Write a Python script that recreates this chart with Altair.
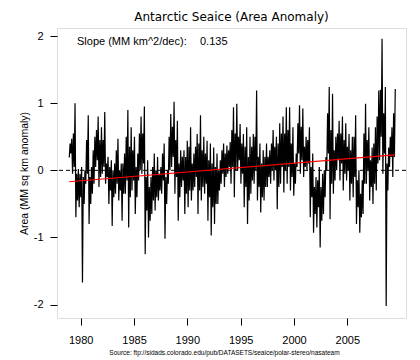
import altair as alt
import pandas as pd

# ---- data (dense daily series, per ~0.31-year bin) ----
# lo/hi: extremes reached in each bin; core_lo/core_hi: the dense band in each bin
start_year = 1978.93
step = 0.3095
lo = [
    0.19, -0.05, -0.70, -0.55, -1.67, -0.20, -0.80, -0.35, 0.05, -0.25, -0.05, -0.20, -0.50, -0.83, -0.35,
    -0.45, -0.75, -0.35, -0.85, -0.30, -0.65, -0.15, -0.05, -1.25, -1.00, -0.65, -0.60, -0.45, -0.35, -1.02, -0.20, 0.05,
    -0.35, -0.75, -0.25, -0.65, -0.55, -0.45, -0.25, -0.65, -0.45, -0.35, -0.75, -0.97, -0.80, -0.50, -0.20, -0.25, -0.05,
    -0.20, -0.40, 0.00, -0.20, -0.55, -0.80, -0.35, -0.20, -0.45, -0.63, -0.45, -0.25, -0.20, -0.15, -0.58, -0.20, -0.33,
    -0.20, -0.30, -0.38, 0.05, -0.05, -0.10, 0.00, -0.70, -0.93, -0.85, -1.15, -0.65, 0.00, -0.73, -0.35, 0.00, -0.15,
    -0.30, -0.15, -0.45, -0.40, -0.80, -0.93, -0.65, -0.20, -0.45, -0.50, -0.30, 0.15, -0.05, -2.02, 0.05, -0.10,
]
hi = [
    0.47, 1.00, 0.02, 0.05, 0.00, 0.82, 0.05, 0.50, 0.80, 0.64, 0.87, 0.20, 0.15, 0.10, 0.47,
    0.10, 0.25, 0.90, 0.64, 0.50, 0.25, 0.80, 0.95, 0.15, -0.10, 0.25, 0.20, 0.05, 0.40, 0.00, 0.84, 1.02,
    0.74, 0.30, 0.30, 0.44, 0.64, 0.25, 0.54, 0.82, 0.50, 0.44, 0.40, 0.34, 0.25, 0.15, 0.40, 0.37, 0.42,
    0.94, 0.99, 0.69, 0.54, 0.64, 0.50, 0.54, 1.19, 0.40, 0.30, 0.40, 0.30, 0.60, 0.50, 0.70, 0.80, 0.94,
    0.94, 0.64, 0.25, 0.97, 0.92, 0.50, 0.64, 0.25, -0.10, 0.05, -0.05, 0.20, 1.24, 1.14, 0.50, 0.74, 0.80,
    0.70, 0.54, 0.50, 0.82, 0.00, -0.15, 0.99, 0.64, 0.34, 0.64, 1.19, 1.96, 1.24, 0.34, 0.64, 1.21,
]
core_lo = [
    0.25, 0.05, -0.45, -0.40, -0.50, -0.05, -0.50, -0.20, 0.15, -0.10, 0.05, -0.10, -0.30, -0.40, -0.20,
    -0.30, -0.35, -0.15, -0.40, -0.15, -0.40, 0.00, 0.10, -0.60, -0.75, -0.45, -0.40, -0.30, -0.15, -0.50, 0.00, 0.20,
    -0.10, -0.40, -0.15, -0.35, -0.30, -0.30, -0.10, -0.30, -0.25, -0.20, -0.40, -0.55, -0.50, -0.30, -0.05, -0.10, 0.05,
    0.05, 0.00, 0.15, -0.05, -0.25, -0.45, -0.15, 0.00, -0.25, -0.40, -0.25, -0.10, 0.00, 0.00, -0.25, 0.05, 0.00,
    0.05, -0.10, -0.20, 0.25, 0.15, 0.05, 0.10, -0.40, -0.65, -0.55, -0.75, -0.40, 0.25, -0.20, -0.15, 0.15, 0.10,
    -0.05, 0.00, -0.20, -0.10, -0.55, -0.70, -0.20, 0.00, -0.25, -0.20, 0.10, 0.50, 0.25, -0.30, 0.20, 0.20,
]
core_hi = [
    0.40, 0.55, -0.05, -0.05, -0.10, 0.45, -0.10, 0.30, 0.60, 0.45, 0.45, 0.10, 0.05, 0.00, 0.30,
    0.00, 0.10, 0.50, 0.35, 0.30, 0.05, 0.55, 0.55, -0.10, -0.25, 0.05, 0.00, -0.05, 0.25, -0.10, 0.50, 0.65,
    0.45, 0.10, 0.20, 0.20, 0.35, 0.10, 0.35, 0.40, 0.30, 0.25, 0.15, 0.10, 0.05, 0.00, 0.30, 0.25, 0.30,
    0.60, 0.55, 0.50, 0.40, 0.35, 0.20, 0.35, 0.50, 0.20, 0.10, 0.20, 0.20, 0.40, 0.35, 0.40, 0.55, 0.55,
    0.60, 0.40, 0.10, 0.70, 0.65, 0.35, 0.45, 0.05, -0.25, -0.15, -0.25, 0.00, 0.85, 0.60, 0.30, 0.55, 0.55,
    0.45, 0.35, 0.30, 0.50, -0.15, -0.35, 0.55, 0.45, 0.15, 0.40, 0.80, 1.20, 0.85, 0.10, 0.50, 0.85,
]
trend_years = [1978.93, 2009.42]
trend_vals = [-0.17, 0.23]
x_ticks = [1980, 1985, 1990, 1995, 2000, 2005]
y_ticks = [-2, -1, 0, 1, 2]
title_text = "Antarctic Seaice (Area Anomaly)"
slope_label = "Slope (MM km^2/dec):"
slope_value = "0.135"
source_text = "Source: ftp://sidads.colorado.edu/pub/DATASETS/seaice/polar-stereo/nasateam"

rows = []
for i, vals in enumerate(zip(lo, core_hi, core_lo, hi)):
    t = start_year + i * step
    for k, v in enumerate(vals):
        rows.append({"year": t + k * step / 4, "v": v, "o": 4 * i + k})
series = pd.DataFrame(rows)
trend = pd.DataFrame({"year": trend_years, "v": trend_vals})
zero = pd.DataFrame({"v": [0]})

W, H = 349, 290
xscale = alt.Scale(domain=[1977.78, 2010.5], nice=False, zero=False)
yscale = alt.Scale(domain=[-2.2, 2.12], nice=False, zero=False)

xaxis = alt.Axis(values=x_ticks, labelExpr="datum.value + ''", title=None, grid=False, domain=False,
                 tickSize=7, tickColor="black", labelColor="black", labelFont="Liberation Sans",
                 labelFontSize=11, labelPadding=9)
yaxis = alt.Axis(values=y_ticks, labelExpr="datum.value + ''", title="Area (MM sq km anomaly)",
                 grid=False, domain=False, tickSize=7, tickColor="black", labelColor="black",
                 labelFont="Liberation Sans", labelFontSize=11, labelPadding=7,
                 titleFont="Liberation Sans", titleFontSize=10.5, titleFontWeight="normal",
                 titleColor="black", titlePadding=4)

base_line = alt.Chart(series).mark_line(color="black", strokeWidth=1.2, strokeJoin="bevel").encode(
    x=alt.X("year:Q", scale=xscale, axis=xaxis),
    y=alt.Y("v:Q", scale=yscale, axis=yaxis),
    order="o:Q",
)
zero_rule = alt.Chart(zero).mark_rule(color="black", strokeDash=[4, 3], strokeWidth=1).encode(
    y=alt.Y("v:Q", scale=yscale)
)
trend_line = alt.Chart(trend).mark_line(color="red", strokeWidth=1.2).encode(
    x=alt.X("year:Q", scale=xscale), y=alt.Y("v:Q", scale=yscale)
)
slope1 = alt.Chart(pd.DataFrame({"t": [slope_label]})).mark_text(
    align="left", baseline="middle", font="Liberation Sans", fontSize=11, color="black"
).encode(x=alt.value(20), y=alt.value(14), text="t:N")
slope2 = alt.Chart(pd.DataFrame({"t": [slope_value]})).mark_text(
    align="left", baseline="middle", font="Liberation Sans", fontSize=11, color="black"
).encode(x=alt.value(143), y=alt.value(14), text="t:N")
source = alt.Chart(pd.DataFrame({"t": [source_text]})).mark_text(
    align="center", baseline="middle", font="Liberation Sans", fontSize=6.5, color="black"
).encode(x=alt.value(167.5), y=alt.value(325), text="t:N")

chart = alt.layer(zero_rule, base_line, trend_line, slope1, slope2, source).properties(
    width=W, height=H,
    title=alt.TitleParams(title_text, font="DejaVu Sans", fontSize=12, fontWeight="normal",
                          color="black", anchor="middle", offset=4),
    autosize=alt.AutoSizeParams(type="none"),
    padding={"left": 49, "top": 20, "right": 5, "bottom": 40},
).configure_view(stroke="black", strokeWidth=1).configure(background="white")

chart.save("out.html", embed_options={"renderer": "svg", "actions": False})
